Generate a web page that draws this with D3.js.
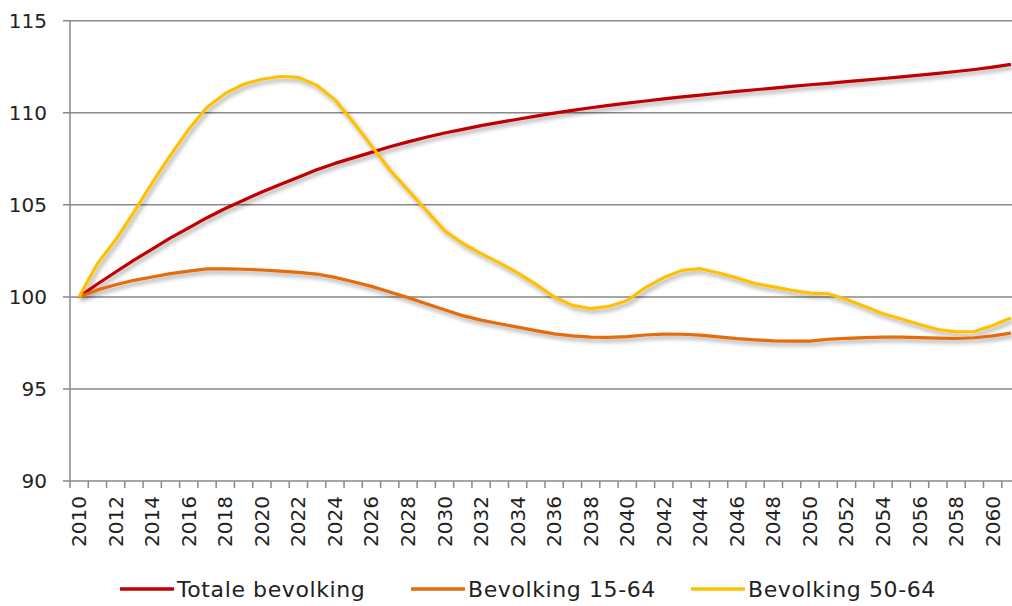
<!DOCTYPE html>
<html>
<head>
<meta charset="utf-8">
<script src="https://cdn.jsdelivr.net/npm/d3@7"></script>
<style>
  body { margin: 0; background: #fff; }
  svg { font-family: "DejaVu Sans", sans-serif; }
  .lbl { fill: #222; font-size: 20px; }
  .leg { fill: #222; font-size: 22px; letter-spacing: 0.6px; }
</style>
</head>
<body>
<div id="chart"></div>
<script>
var years = d3.range(2010, 2062);

var totale = [100, 100.7, 101.35, 102.0, 102.6, 103.2, 103.75, 104.3, 104.8, 105.25,
  105.7, 106.1, 106.5, 106.9, 107.25, 107.55, 107.85, 108.15, 108.42, 108.67,
  108.9, 109.1, 109.3, 109.48, 109.65, 109.82, 109.98, 110.13, 110.27, 110.4,
  110.52, 110.64, 110.75, 110.86, 110.96, 111.06, 111.16, 111.25, 111.34, 111.43,
  111.52, 111.6, 111.69, 111.77, 111.86, 111.95, 112.04, 112.14, 112.24, 112.35,
  112.48, 112.63];

var bev1564 = [100, 100.38, 100.66, 100.9, 101.08, 101.26, 101.4, 101.52, 101.52, 101.5,
  101.46, 101.4, 101.33, 101.24, 101.06, 100.82, 100.57, 100.27, 99.96, 99.63,
  99.3, 98.98, 98.74, 98.54, 98.36, 98.17, 97.99, 97.88, 97.81, 97.8,
  97.84, 97.93, 97.98, 97.97, 97.92, 97.83, 97.73, 97.66, 97.61, 97.6,
  97.6, 97.7, 97.75, 97.79, 97.81, 97.81, 97.79, 97.76, 97.74, 97.78,
  97.88, 98.03];

var bev5064 = [100, 101.8, 103.1, 104.6, 106.2, 107.7, 109.1, 110.3, 111.05, 111.55,
  111.82, 111.97, 111.92, 111.5, 110.7, 109.5, 108.2, 106.9, 105.8, 104.7,
  103.6, 102.9, 102.35, 101.85, 101.3, 100.68, 99.99, 99.54, 99.36, 99.48,
  99.8, 100.5, 101.05, 101.44, 101.53, 101.3, 101.03, 100.72, 100.54, 100.35,
  100.2, 100.17, 99.86, 99.48, 99.08, 98.8, 98.5, 98.23, 98.1, 98.12,
  98.45, 98.85];

var yTicks = [90, 95, 100, 105, 110, 115];

var series = [
  { name: "Totale bevolking", values: totale, color: "#C00000" },
  { name: "Bevolking 15-64", values: bev1564, color: "#E46C0A" },
  { name: "Bevolking 50-64", values: bev5064, color: "#FFC000" }
];

var width = 1012, height = 606;
var plotLeft = 70, plotTop = 20.7, plotBottom = 481;
var step = 18.27;

var svg = d3.select("#chart").append("svg")
  .attr("width", width)
  .attr("height", height);

var defs = svg.append("defs");
var shadow = defs.append("filter").attr("id", "shadow")
  .attr("x", "-10%").attr("y", "-10%").attr("width", "130%").attr("height", "130%");
shadow.append("feDropShadow")
  .attr("dx", 2).attr("dy", 3).attr("stdDeviation", 2)
  .attr("flood-color", "#000").attr("flood-opacity", 0.35);

var x = d3.scaleBand().domain(years).range([plotLeft, plotLeft + years.length * step]);
var y = d3.scaleLinear().domain([90, 115]).range([plotBottom, plotTop]);

// gridlines
svg.append("g").selectAll("line")
  .data(yTicks.slice(1))
  .enter().append("line")
  .attr("x1", plotLeft - 7).attr("x2", width)
  .attr("y1", function(d) { return y(d); })
  .attr("y2", function(d) { return y(d); })
  .attr("stroke", "#888").attr("stroke-width", 1.5);

// axes
svg.append("line")
  .attr("x1", plotLeft).attr("x2", plotLeft)
  .attr("y1", y(115)).attr("y2", y(90) + 7)
  .attr("stroke", "#888").attr("stroke-width", 1.5);

svg.append("line")
  .attr("x1", plotLeft - 7).attr("x2", width)
  .attr("y1", y(90)).attr("y2", y(90))
  .attr("stroke", "#888").attr("stroke-width", 1.5);

svg.append("g").selectAll("text")
  .data(yTicks)
  .enter().append("text")
  .attr("class", "lbl")
  .attr("x", 47)
  .attr("y", function(d) { return y(d); })
  .attr("dy", "0.35em")
  .attr("text-anchor", "end")
  .text(function(d) { return d; });

// x ticks at band edges
svg.append("g").selectAll("line")
  .data(years.slice(1))
  .enter().append("line")
  .attr("x1", function(d) { return x(d); })
  .attr("x2", function(d) { return x(d); })
  .attr("y1", y(90)).attr("y2", y(90) + 7)
  .attr("stroke", "#888").attr("stroke-width", 1.5);

svg.append("g").selectAll("text")
  .data(years.filter(function(d) { return (d - 2010) % 2 === 0; }))
  .enter().append("text")
  .attr("class", "lbl")
  .attr("transform", function(d) {
    return "translate(" + (x(d) + x.bandwidth() / 2) + "," + (y(90) + 15) + ") rotate(-90)";
  })
  .attr("dy", "0.35em")
  .attr("text-anchor", "end")
  .text(function(d) { return d; });

// lines
var line = d3.line()
  .x(function(d, i) { return x(years[i]) + x.bandwidth() / 2; })
  .y(function(d) { return y(d); });

svg.append("g").attr("filter", "url(#shadow)")
  .selectAll("path")
  .data(series)
  .enter().append("path")
  .attr("d", function(d) { return line(d.values); })
  .attr("fill", "none")
  .attr("stroke", function(d) { return d.color; })
  .attr("stroke-width", 3.2)
  .attr("stroke-linejoin", "round");

// legend
var legendX = [120, 411, 691];
var legend = svg.append("g").selectAll("g")
  .data(series)
  .enter().append("g")
  .attr("transform", function(d, i) { return "translate(" + legendX[i] + ",589)"; });

legend.append("line")
  .attr("x1", 0).attr("x2", 54)
  .attr("stroke", function(d) { return d.color; })
  .attr("stroke-width", 3.5);

legend.append("text")
  .attr("class", "leg")
  .attr("x", 57)
  .attr("dy", "0.35em")
  .text(function(d) { return d.name; });
</script>
</body>
</html>
